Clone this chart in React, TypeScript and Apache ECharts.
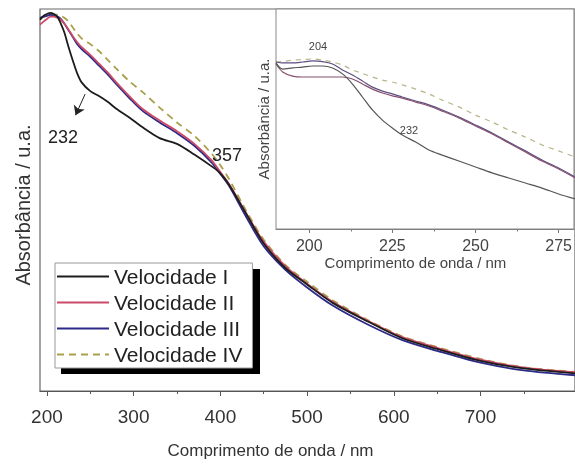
import React, { useEffect, useRef } from "react";
import * as echarts from "echarts";

// ---- main spectrum (nm) ----
const wavelength = [192, 196, 200, 204, 208, 212, 216, 220, 225, 230, 235, 240, 250, 260, 270, 280, 295, 310, 330, 350, 370, 390, 400, 410, 430, 450, 475, 500, 530, 570, 610, 650, 700, 750, 810];
const velocidadeI = [0.972, 0.982, 0.987, 0.990, 0.987, 0.980, 0.962, 0.939, 0.900, 0.864, 0.831, 0.808, 0.785, 0.772, 0.757, 0.739, 0.716, 0.691, 0.662, 0.647, 0.619, 0.588, 0.570, 0.540, 0.463, 0.386, 0.322, 0.279, 0.230, 0.182, 0.138, 0.110, 0.079, 0.059, 0.046];
const velocidadeII = [0.959, 0.967, 0.974, 0.980, 0.980, 0.977, 0.972, 0.962, 0.946, 0.928, 0.913, 0.900, 0.880, 0.857, 0.834, 0.808, 0.772, 0.739, 0.708, 0.680, 0.647, 0.604, 0.573, 0.542, 0.465, 0.391, 0.327, 0.281, 0.233, 0.184, 0.141, 0.113, 0.082, 0.061, 0.049];
const velocidadeIII = [0.977, 0.980, 0.982, 0.985, 0.982, 0.980, 0.974, 0.962, 0.944, 0.926, 0.908, 0.895, 0.875, 0.852, 0.829, 0.803, 0.767, 0.734, 0.703, 0.675, 0.642, 0.598, 0.568, 0.537, 0.455, 0.379, 0.317, 0.271, 0.223, 0.174, 0.133, 0.105, 0.074, 0.054, 0.041];
const velocidadeIV = [0.972, 0.980, 0.982, 0.985, 0.985, 0.985, 0.982, 0.977, 0.967, 0.951, 0.936, 0.923, 0.908, 0.890, 0.867, 0.844, 0.811, 0.783, 0.742, 0.703, 0.668, 0.621, 0.591, 0.555, 0.471, 0.396, 0.330, 0.286, 0.237, 0.186, 0.143, 0.115, 0.084, 0.062, 0.050];

// ---- inset (zoom 190-280 nm) ----
const insetWavelength = [190, 192, 195, 198, 201, 204, 207, 210, 213, 216, 219, 222, 225, 228, 232, 236, 240, 245, 250, 255, 260, 265, 270, 275, 280];
const insetI = [0.755, 0.727, 0.732, 0.736, 0.741, 0.741, 0.732, 0.705, 0.659, 0.600, 0.541, 0.495, 0.459, 0.427, 0.395, 0.359, 0.336, 0.309, 0.282, 0.255, 0.232, 0.209, 0.186, 0.159, 0.136];
const insetII = [0.750, 0.714, 0.695, 0.691, 0.691, 0.691, 0.691, 0.691, 0.682, 0.659, 0.636, 0.618, 0.605, 0.595, 0.577, 0.559, 0.536, 0.505, 0.468, 0.432, 0.391, 0.350, 0.309, 0.273, 0.232];
const insetIII = [0.759, 0.755, 0.755, 0.759, 0.764, 0.761, 0.750, 0.723, 0.700, 0.673, 0.645, 0.627, 0.614, 0.600, 0.582, 0.564, 0.541, 0.509, 0.473, 0.436, 0.395, 0.355, 0.314, 0.277, 0.236];
const insetIV = [0.759, 0.761, 0.768, 0.770, 0.773, 0.768, 0.759, 0.745, 0.723, 0.707, 0.691, 0.677, 0.668, 0.655, 0.636, 0.614, 0.586, 0.555, 0.518, 0.486, 0.450, 0.418, 0.382, 0.355, 0.327];

// ---- ticks ----
const mainTicks = [200, 300, 400, 500, 600, 700];
const mainMinorTicks = [250, 350, 450, 550, 650, 750];
const insetTicks = [200, 225, 250, 275];
const insetMinorTicks = [212.5, 237.5, 262.5];

const seriesNames = ["Velocidade I", "Velocidade II", "Velocidade III", "Velocidade IV"];
const FONT = "'Liberation Sans', Arial, Helvetica, sans-serif";

export default function App() {
  const ref = useRef<HTMLDivElement>(null);
  useEffect(() => {
    const chart = echarts.init(ref.current!, null, { renderer: "svg" });
    const pair = (xs: number[], ys: number[]) => xs.map((x, i) => [x, ys[i]]);
    const mainColors = ["#1c1c1c", "#cc4a68", "#2c2a86", "#a9a04a"];
    const insetColors = ["#555555", "#86506e", "#5c4f82", "#b9b38c"];
    const mainData = [velocidadeI, velocidadeII, velocidadeIII, velocidadeIV];
    const insetData = [insetI, insetII, insetIII, insetIV];

    const mainSeries = mainData.map((d, i) => ({
      name: seriesNames[i],
      type: "line",
      xAxisIndex: 0,
      yAxisIndex: 0,
      data: pair(wavelength, d),
      symbol: "none",
      smooth: 0.3,
      z: 5 - i,
      lineStyle: { color: mainColors[i], width: 1.8, type: i === 3 ? [7, 5] : "solid" },
      itemStyle: { color: mainColors[i] },
      markLine: i === 0 ? {
        silent: true,
        symbol: ["none", "arrow"],
        symbolSize: 9,
        label: { show: false },
        lineStyle: { color: "#222", width: 1, type: "solid" },
        data: [[{ coord: [244, 0.777] }, { coord: [233, 0.722] }]],
      } : undefined,
    }));
    const insetSeries = insetData.map((d, i) => ({
      name: "inset " + seriesNames[i],
      type: "line",
      xAxisIndex: 2,
      yAxisIndex: 1,
      data: pair(insetWavelength, d),
      symbol: "none",
      smooth: 0.3,
      z: 12 - i,
      lineStyle: { color: insetColors[i], width: 1.2, type: i === 3 ? [5, 5] : "solid" },
    }));

    const option = {
      animation: false,
      textStyle: { fontFamily: FONT },
      grid: [
        { left: 40, top: 9, right: -2, bottom: 64, show: true, borderColor: "#666", borderWidth: 1.2, backgroundColor: "#fff" },
        { left: 276, top: 9, right: -2, bottom: 235, show: true, borderColor: "#888", borderWidth: 1, backgroundColor: "#fff", z: 3 },
      ],
      legend: {
        data: seriesNames,
        orient: "vertical",
        left: 55,
        top: 263,
        padding: [3, 10, 3, 1],
        itemWidth: 52,
        itemHeight: 14,
        itemGap: 5,
        backgroundColor: "#fff",
        borderColor: "#999",
        borderWidth: 1,
        itemStyle: { opacity: 0 },
        textStyle: { fontSize: 21, color: "#222", fontFamily: FONT },
      },
      xAxis: [
        {
          gridIndex: 0, type: "value", min: 192, max: 809, position: "bottom",
          axisLine: { show: true, lineStyle: { color: "#555", width: 1.2 } },
          axisTick: { show: true, customValues: mainTicks, length: 5, lineStyle: { color: "#555" } },
          axisLabel: { show: true, customValues: mainTicks, fontSize: 19, margin: 16, color: "#333", fontFamily: FONT },
          splitLine: { show: false },
          name: "Comprimento de onda / nm", nameLocation: "middle", nameGap: 51,
          nameTextStyle: { fontSize: 17, color: "#333", padding: [0, 74, 0, 0], fontFamily: FONT },
        },
        {
          gridIndex: 0, type: "value", min: 192, max: 809, position: "bottom",
          axisLine: { show: false },
          axisTick: { show: true, customValues: mainMinorTicks, length: 3, lineStyle: { color: "#555" } },
          axisLabel: { show: false },
          splitLine: { show: false },
        },
        {
          gridIndex: 1, type: "value", min: 190, max: 279.6, position: "bottom",
          axisLine: { show: true, lineStyle: { color: "#777", width: 1 } },
          axisTick: { show: true, customValues: insetTicks, length: 4, lineStyle: { color: "#777" } },
          axisLabel: { show: true, customValues: insetTicks, fontSize: 16, margin: 8, color: "#444", fontFamily: FONT },
          splitLine: { show: false },
          name: "Comprimento de onda / nm", nameLocation: "middle", nameGap: 26,
          nameTextStyle: { fontSize: 15, color: "#444", padding: [0, 19, 0, 0], fontFamily: FONT },
        },
        {
          gridIndex: 1, type: "value", min: 190, max: 279.6, position: "bottom",
          axisLine: { show: false },
          axisTick: { show: true, customValues: insetMinorTicks, length: 2.5, lineStyle: { color: "#777" } },
          axisLabel: { show: false },
          splitLine: { show: false },
        },
      ],
      yAxis: [
        {
          gridIndex: 0, type: "value", min: 0, max: 1,
          axisLine: { show: false }, axisTick: { show: false }, axisLabel: { show: false }, splitLine: { show: false },
          name: "Absorbância / u.a.", nameLocation: "middle", nameGap: 7,
          nameTextStyle: { fontSize: 20, color: "#333", padding: [0, 10, 0, 0], fontFamily: FONT },
        },
        {
          gridIndex: 1, type: "value", min: 0, max: 1,
          axisLine: { show: false }, axisTick: { show: false }, axisLabel: { show: false }, splitLine: { show: false },
          name: "Absorbância / u.a.", nameLocation: "middle", nameGap: 5,
          nameTextStyle: { fontSize: 15, color: "#444", fontFamily: FONT },
        },
      ],
      graphic: [
        { type: "rect", z: 1, shape: { x: 61, y: 269, width: 199, height: 105 }, style: { fill: "#000" } },
        { type: "text", z: 10, style: { text: "232", x: 63, y: 137, align: "center", verticalAlign: "middle", fontSize: 18, fill: "#222", fontFamily: FONT } },
        { type: "text", z: 10, style: { text: "357", x: 227, y: 155, align: "center", verticalAlign: "middle", fontSize: 18, fill: "#222", fontFamily: FONT } },
        { type: "text", z: 20, style: { text: "204", x: 318, y: 46, align: "center", verticalAlign: "middle", fontSize: 11, fill: "#444", fontFamily: FONT } },
        { type: "text", z: 20, style: { text: "232", x: 409, y: 130, align: "center", verticalAlign: "middle", fontSize: 11, fill: "#444", fontFamily: FONT } },
      ],
      series: [...mainSeries, ...insetSeries],
    };
    chart.setOption(option as any);
    return () => chart.dispose();
  }, []);
  return <div ref={ref} style={{ position: "fixed", left: 0, top: 0, width: 575, height: 464 }} />;
}
